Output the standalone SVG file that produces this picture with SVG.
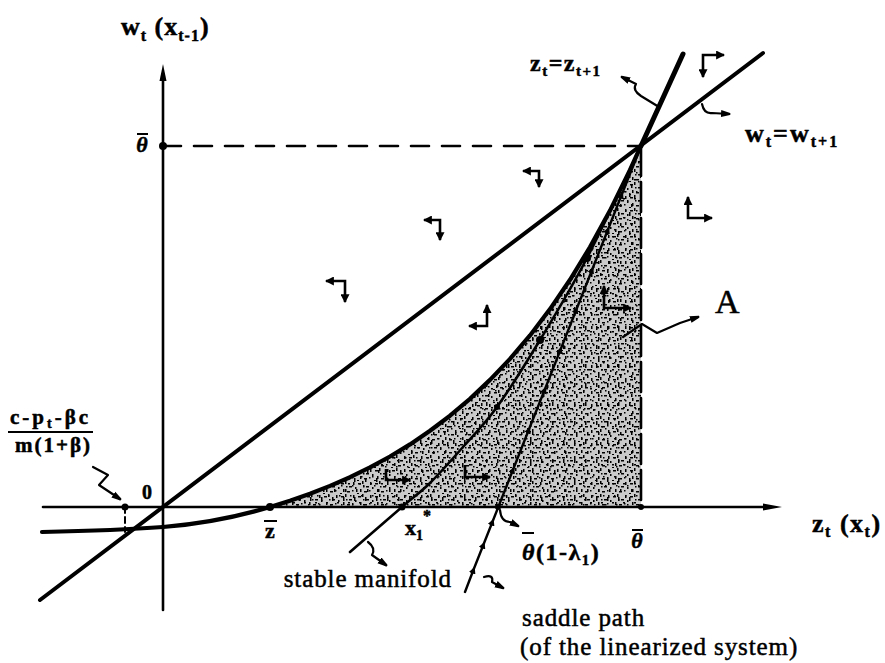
<svg xmlns="http://www.w3.org/2000/svg" width="885" height="663" viewBox="0 0 885 663">
<style>
.ln{fill:none;stroke:#000;stroke-linecap:round;stroke-linejoin:round}
.t{font-family:"Liberation Serif","Times New Roman",serif;fill:#000;stroke:#000;stroke-width:0.5}
.b{font-weight:bold}
.body{font-size:25px;letter-spacing:0.9px}
.sq{fill:none;stroke:#000;stroke-width:2.2;stroke-linecap:round;stroke-linejoin:round}
.ph{fill:none;stroke:#000;stroke-width:2.6;stroke-linejoin:miter}
</style>
<defs>
<pattern id="st1" width="17" height="13" patternUnits="userSpaceOnUse">
<rect x="1" y="2" width="3" height="1.5"/><rect x="5" y="0" width="1.5" height="3"/><rect x="9" y="5" width="3" height="1.5"/><rect x="13" y="1" width="1.5" height="3"/><rect x="3" y="8" width="1.5" height="3"/><rect x="7" y="10" width="3" height="1.5"/><rect x="12" y="9" width="1.5" height="1.5"/><rect x="15" y="6" width="1.5" height="2"/><rect x="0" y="12" width="2" height="1"/><rect x="6" y="5" width="1.5" height="1.5"/>
</pattern>
<pattern id="st2" width="11" height="19" patternUnits="userSpaceOnUse">
<rect x="2" y="3" width="1.5" height="4"/><rect x="7" y="8" width="2" height="1.5"/><rect x="4" y="14" width="1.5" height="3"/><rect x="9" y="1" width="1.5" height="1.5"/><rect x="0" y="10" width="1.5" height="1.5"/>
</pattern>
<marker id="blob" viewBox="0 0 10 8" refX="8" refY="4" markerWidth="10" markerHeight="8" markerUnits="userSpaceOnUse" orient="auto"><path d="M0,0.5 L9,3 Q10,4 9,5 L0,7.5 Z"/></marker>
<marker id="ah" viewBox="0 0 8 8" refX="7" refY="4" markerWidth="9" markerHeight="9" markerUnits="userSpaceOnUse" orient="auto-start-reverse"><path d="M0,0 L8,4 L0,8 Z"/></marker>
<marker id="sm" viewBox="0 0 8 8" refX="4" refY="4" markerWidth="7" markerHeight="7" markerUnits="userSpaceOnUse" orient="auto"><path d="M0,0 L8,4 L0,8 Z"/></marker>
</defs>

<g id="shade">
<path d="M270,507 L290,500.7 L310,493.7 L330,485.9 L350,477.2 L370,467.4 L390,456.5 L410,444.4 L430,430.8 L450,415.7 L470,398.8 L490,379.9 L510,358.9 L530,335.4 L550,309.1 L570,279.8 L590,247.1 L610,210.6 L630,169.9 L641,145.5 L641,507 Z" fill="#cacaca"/>
<path d="M270,507 L290,500.7 L310,493.7 L330,485.9 L350,477.2 L370,467.4 L390,456.5 L410,444.4 L430,430.8 L450,415.7 L470,398.8 L490,379.9 L510,358.9 L530,335.4 L550,309.1 L570,279.8 L590,247.1 L610,210.6 L630,169.9 L641,145.5 L641,507 Z" fill="url(#st1)"/>
<path d="M270,507 L290,500.7 L310,493.7 L330,485.9 L350,477.2 L370,467.4 L390,456.5 L410,444.4 L430,430.8 L450,415.7 L470,398.8 L490,379.9 L510,358.9 L530,335.4 L550,309.1 L570,279.8 L590,247.1 L610,210.6 L630,169.9 L641,145.5 L641,507 Z" fill="url(#st2)"/>
</g>

<g id="axes">
<line class="ln" x1="163" y1="78" x2="163" y2="610" stroke-width="2.6"/>
<polygon points="163,64 159.5,81 166.5,81"/>
<line class="ln" x1="43" y1="507" x2="768" y2="507" stroke-width="2.6"/>
<polygon points="782,507 763,503.5 763,510.5"/>
<line class="ln" x1="163" y1="146" x2="641" y2="146" stroke-width="2.6" stroke-dasharray="18 13" stroke-linecap="butt"/>
<line class="ln" x1="641" y1="146" x2="641" y2="507" stroke-width="2.6" stroke-dasharray="30 6" stroke-linecap="butt"/>
<line class="ln" x1="125" y1="507" x2="125" y2="532" stroke-width="2" stroke-dasharray="6 4" stroke-linecap="butt"/>
</g>

<g id="curves">
<path id="convex" class="ln" stroke-width="4.2" d="M42,532 C90,531 130,529.5 163,527 C200,524 240,516 270,507 L290,500.7 L310,493.7 L330,485.9 L350,477.2 L370,467.4 L390,456.5 L410,444.4 L430,430.8 L450,415.7 L470,398.8 L490,379.9 L510,358.9 L530,335.4 L550,309.1 L570,279.8 L590,247.1 L610,210.6 L630,169.9 L641,145.5"/>
<line id="zline" class="ln" x1="641" y1="146" x2="683" y2="54" stroke-width="5"/>
<line id="wline" class="ln" x1="40" y1="600" x2="763" y2="53" stroke-width="4"/>
<path id="manifold" class="ln" stroke-width="2.6" d="M350,552 C358.7,544.5 388.7,518.5 402,507 C415.3,495.5 419.8,493 430,483 C440.2,473 451.8,459.7 463,447 C474.2,434.3 484.2,424.8 497,407 C509.8,389.2 525,364.8 540,340 C555,315.2 570.2,290.3 587,258 C603.8,225.7 632,164.7 641,146"/>
<polyline id="saddle" class="ln" stroke-width="2.4" marker-mid="url(#sm)" points="465,592 473.4,570 483.3,545 492.4,522 512.9,470 528.7,430 544.6,390 560.4,350 576.2,310 592,270 607.8,230 621.6,195 641,146"/>
<circle cx="540" cy="340" r="4"/>
<circle cx="587" cy="258" r="4"/>
<circle cx="497" cy="407" r="3"/>
</g>

<g id="points">
<circle cx="163" cy="146" r="4"/>
<circle cx="125" cy="507" r="3.5"/>
<circle cx="270" cy="507" r="4"/>
<circle cx="402" cy="507" r="3.5"/>
<circle cx="498" cy="507" r="3"/>
<circle cx="641" cy="507" r="3"/>
</g>

<g id="phase-arrows">
<path class="ph" marker-start="url(#ah)" marker-end="url(#ah)" d="M523,171 L539,171 L539,187"/>
<path class="ph" marker-start="url(#ah)" marker-end="url(#ah)" d="M424,220 L440,220 L440,240"/>
<path class="ph" marker-start="url(#ah)" marker-end="url(#ah)" d="M326,281 L345,281 L345,302"/>
<path class="ph" marker-start="url(#ah)" marker-end="url(#ah)" d="M487,305 L487,326 L469,326"/>
<path class="ph" marker-start="url(#ah)" marker-end="url(#ah)" d="M688,197 L688,218 L712,218"/>
<path class="ph" marker-start="url(#ah)" marker-end="url(#ah)" d="M604,286 L604,308 L631,308"/>
<path class="ph" marker-start="url(#ah)" marker-end="url(#ah)" d="M724,55 L703,55 L703,77"/>
<path class="ph" marker-end="url(#ah)" d="M386,469 L386,480 L410,480"/>
<path class="ph" marker-end="url(#ah)" d="M465,465 L465,477 L490,477"/>
</g>

<g id="connectors">
<path class="sq" marker-end="url(#blob)" d="M93,467 L108,475 L99,485 L120,499"/>
<path class="sq" marker-end="url(#blob)" d="M659,107 L641,96 Q632,90 636,84 L622,77"/>
<path class="sq" marker-end="url(#blob)" d="M702,104 Q704,114 712,113 L729,114"/>
<path class="sq" marker-end="url(#blob)" d="M623,337 L642,324 L657,333 L680,323 L698,317"/>
<path class="sq" marker-end="url(#blob)" d="M500,510 Q501,522 510,522 L518,526"/>
<path class="sq" marker-end="url(#blob)" d="M368,542 Q376,548 372,555 L386,565"/>
<path class="sq" marker-end="url(#blob)" d="M484,577 Q494,574 492,582 L503,588"/>
</g>

<g id="labels">
<text class="t b" x="121" y="35" font-size="26" letter-spacing="1">w<tspan font-size="16" dy="6">t</tspan><tspan dy="-6"> (x</tspan><tspan font-size="16" dy="6">t-1</tspan><tspan dy="-6">)</tspan></text>
<text class="t b" x="142" y="152" font-size="22" font-style="italic" text-anchor="middle">θ</text>
<line x1="137" y1="134" x2="148" y2="134" stroke="#000" stroke-width="2"/>
<text class="t b" x="530" y="71" font-size="24" letter-spacing="1.5">z<tspan font-size="15" dy="5">t</tspan><tspan dy="-5">=z</tspan><tspan font-size="15" dy="5">t+1</tspan></text>
<text class="t b" x="745" y="142" font-size="26" letter-spacing="2">w<tspan font-size="16" dy="5">t</tspan><tspan dy="-5">=w</tspan><tspan font-size="16" dy="5">t+1</tspan></text>
<text class="t" x="715" y="313" font-size="34">A</text>
<text class="t b" x="10" y="424" font-size="21" letter-spacing="3">c-p<tspan font-size="14" dy="4">t</tspan><tspan dy="-4">-βc</tspan></text>
<line x1="8" y1="432" x2="93" y2="432" stroke="#000" stroke-width="2"/>
<text class="t b" x="15" y="452" font-size="21" letter-spacing="2">m(1+β)</text>
<text class="t b" x="147" y="499" font-size="20" text-anchor="middle">0</text>
<text class="t b" x="270" y="538" font-size="22" text-anchor="middle">z</text>
<line x1="264" y1="521" x2="277" y2="521" stroke="#000" stroke-width="2"/>
<text class="t b" x="405" y="535" font-size="22">x<tspan font-size="14" dy="5">1</tspan><tspan font-size="16" dy="-19">*</tspan></text>
<text class="t b" x="522" y="560" font-size="24" letter-spacing="1.5"><tspan font-style="italic">θ</tspan>(1-λ<tspan font-size="15" dy="5">1</tspan><tspan dy="-5">)</tspan></text>
<line x1="522" y1="533" x2="534" y2="533" stroke="#000" stroke-width="2"/>
<text class="t b" x="637" y="548" font-size="22" font-style="italic" text-anchor="middle">θ</text>
<line x1="632" y1="530" x2="643" y2="530" stroke="#000" stroke-width="2"/>
<text class="t b" x="812" y="532" font-size="26" letter-spacing="1.5">z<tspan font-size="16" dy="5">t</tspan><tspan dy="-5"> (x</tspan><tspan font-size="16" dy="5">t</tspan><tspan dy="-5">)</tspan></text>
<text class="t body" x="452" y="587" text-anchor="end">stable manifold</text>
<text class="t body" x="522" y="626">saddle path</text>
<text class="t body" x="520" y="655">(of the linearized system)</text>
</g>
</svg>
